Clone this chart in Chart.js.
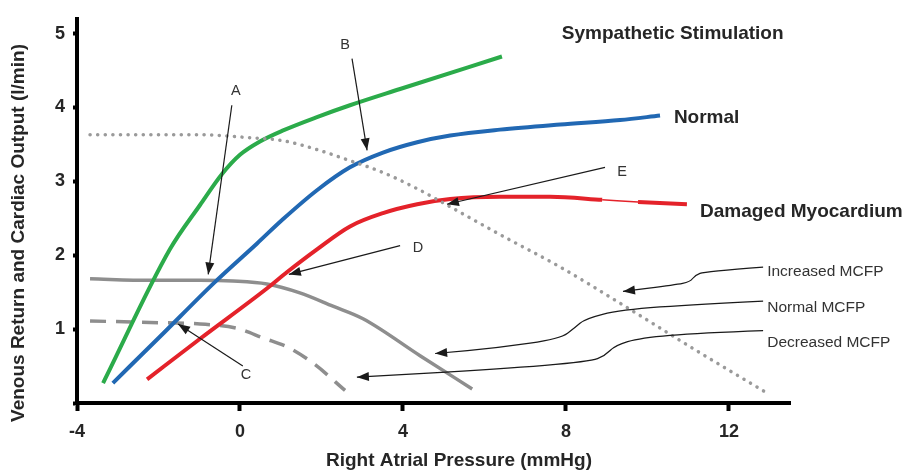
<!DOCTYPE html>
<html lang="en">
<head>
    <meta charset="UTF-8">
    <title>Venous Return and Cardiac Output</title>
    <script src="https://cdn.jsdelivr.net/npm/chart.js"></script>
    <style>
        body {
            margin: 0;
            background-color: #fff;
        }
        canvas {
            display: block;
        }
    </style>
</head>
<body>
    <canvas id="guytonChart" width="908" height="474"></canvas>

    <script>
        // axis ticks
        const xTicks = [-4, 0, 4, 8, 12];
        const yTicks = [0, 1, 2, 3, 4, 5];

        // cardiac output curves (right atrial pressure, l/min)
        const sympatheticX = [-3.36, -1.72, -0.98, -0.44, 0.00, 0.49, 1.06, 1.89, 2.70, 3.93, 6.43];
        const sympatheticY = [0.27, 2.08, 2.68, 3.10, 3.36, 3.54, 3.69, 3.87, 4.03, 4.25, 4.69];

        const normalX = [-3.12, -1.96, -0.61, 0.42, 1.06, 1.89, 2.70, 3.51, 4.35, 5.16, 6.38, 7.86, 9.33, 10.31];
        const normalY = [0.27, 0.90, 1.64, 2.16, 2.49, 2.88, 3.19, 3.39, 3.53, 3.62, 3.70, 3.77, 3.83, 3.89];

        const damagedX = [-2.28, -0.98, 0.66, 1.15, 1.89, 2.70, 3.51, 4.35, 5.16, 6.38, 7.61, 8.89, 9.77, 10.97];
        const damagedY = [0.32, 0.87, 1.55, 1.77, 2.08, 2.39, 2.57, 2.69, 2.76, 2.79, 2.79, 2.75, 2.72, 2.69];

        // venous return curves
        const increasedX = [-3.68, -0.98, 0.25, 1.06, 1.89, 2.70, 3.51, 4.35, 5.08, 6.38, 7.86, 9.33, 11.29, 12.89];
        const increasedY = [3.63, 3.63, 3.59, 3.55, 3.43, 3.28, 3.12, 2.90, 2.68, 2.28, 1.84, 1.35, 0.68, 0.15];

        const normalVrX = [-3.68, -2.21, -0.98, -0.17, 0.66, 1.47, 2.28, 3.02, 4.42, 5.70];
        const normalVrY = [1.68, 1.66, 1.66, 1.65, 1.61, 1.49, 1.31, 1.14, 0.64, 0.19];

        const decreasedX = [-3.68, -2.21, -0.98, -0.07, 0.57, 1.23, 1.84, 2.58];
        const decreasedY = [1.11, 1.09, 1.07, 1.01, 0.88, 0.74, 0.52, 0.17];

        // annotations
        const curveLabels = ['Sympathetic Stimulation', 'Normal', 'Damaged Myocardium'];
        const curveLabelAt = [[7.90, 5.00], [10.65, 3.86], [11.29, 2.59]];

        const mcfpLabels = ['Increased MCFP', 'Normal MCFP', 'Decreased MCFP'];
        const mcfpLabelAt = [[12.94, 1.78], [12.94, 1.29], [12.94, 0.82]];

        const letters = ['A', 'B', 'C', 'D', 'E'];
        const letterAt = [[-0.10, 4.22], [2.58, 4.84], [0.15, 0.38], [4.37, 2.10], [9.38, 3.12]];

        const arrows = [
            [[-0.20, 4.03], [-0.78, 1.74]],
            [[2.75, 4.66], [3.12, 3.42]],
            [[0.07, 0.50], [-1.52, 1.07]],
            [[3.93, 2.13], [1.20, 1.74]],
            [[8.96, 3.19], [5.08, 2.69]],
            [[12.84, 1.84], [11.41, 1.78], [11.17, 1.73], [11.05, 1.64], [10.68, 1.60], [9.40, 1.51]],
            [[12.84, 1.38], [11.29, 1.34], [9.33, 1.26], [8.47, 1.14], [8.22, 1.02], [7.86, 0.87], [6.38, 0.75], [4.79, 0.67]],
            [[12.84, 0.98], [11.29, 0.95], [9.82, 0.88], [9.21, 0.78], [8.96, 0.64], [8.59, 0.56], [6.38, 0.46], [2.87, 0.35]]
        ];

        const pairs = (xs, ys) => xs.map((x, i) => ({x: x, y: ys[i]}));
        const FONT = '"Liberation Sans", Arial, sans-serif';
        const TEXT = '#262626';

        const annotations = {
            id: 'annotations',
            afterDatasetsDraw(chart) {
                const {ctx, scales: {x, y}} = chart;
                const px = p => [x.getPixelForValue(p[0]), y.getPixelForValue(p[1])];
                ctx.save();

                // arrows
                ctx.strokeStyle = '#1a1a1a';
                ctx.fillStyle = '#1a1a1a';
                ctx.lineWidth = 1.2;
                arrows.forEach(path => {
                    const pts = path.map(px);
                    const n = pts.length;
                    ctx.beginPath();
                    ctx.moveTo(pts[0][0], pts[0][1]);
                    for (let i = 1; i < n - 1; i++) {
                        const mx = (pts[i][0] + pts[i + 1][0]) / 2;
                        const my = (pts[i][1] + pts[i + 1][1]) / 2;
                        ctx.quadraticCurveTo(pts[i][0], pts[i][1], mx, my);
                    }
                    ctx.lineTo(pts[n - 1][0], pts[n - 1][1]);
                    ctx.stroke();
                    const a = pts[n - 2], b = pts[n - 1];
                    const ang = Math.atan2(b[1] - a[1], b[0] - a[0]);
                    ctx.beginPath();
                    ctx.moveTo(b[0], b[1]);
                    ctx.lineTo(b[0] - 12 * Math.cos(ang) + 4.5 * Math.sin(ang), b[1] - 12 * Math.sin(ang) - 4.5 * Math.cos(ang));
                    ctx.lineTo(b[0] - 12 * Math.cos(ang) - 4.5 * Math.sin(ang), b[1] - 12 * Math.sin(ang) + 4.5 * Math.cos(ang));
                    ctx.closePath();
                    ctx.fill();
                });

                ctx.textBaseline = 'middle';
                ctx.fillStyle = TEXT;

                ctx.font = 'bold 19px ' + FONT;
                ctx.textAlign = 'left';
                curveLabels.forEach((t, i) => {
                    const p = px(curveLabelAt[i]);
                    ctx.fillText(t, p[0], p[1]);
                });

                ctx.font = '15.5px ' + FONT;
                ctx.fillStyle = '#333';
                mcfpLabels.forEach((t, i) => {
                    const p = px(mcfpLabelAt[i]);
                    ctx.fillText(t, p[0], p[1]);
                });

                ctx.font = '14.5px ' + FONT;
                ctx.textAlign = 'center';
                letters.forEach((t, i) => {
                    const p = px(letterAt[i]);
                    ctx.fillText(t, p[0], p[1]);
                });

                // axis titles
                ctx.fillStyle = TEXT;
                ctx.font = 'bold 19px ' + FONT;
                ctx.fillText('Right Atrial Pressure (mmHg)', 459, 461);
                ctx.translate(19, 233);
                ctx.rotate(-Math.PI / 2);
                ctx.fillText('Venous Return and Cardiac Output (l/min)', 0, 0);
                ctx.restore();
            }
        };

        // thin stretch drawn in the damaged myocardium curve
        const thinStretch = ctx => (ctx.p0.parsed.x >= 8.88 && ctx.p1.parsed.x <= 9.78 ? 1.5 : undefined);

        new Chart(document.getElementById('guytonChart').getContext('2d'), {
            type: 'line',
            data: {
                datasets: [{
                    label: 'Increased MCFP',
                    data: pairs(increasedX, increasedY),
                    borderColor: '#9a9a9a',
                    borderWidth: 3.5,
                    borderDash: [0.1, 7.5],
                    borderCapStyle: 'round'
                }, {
                    label: 'Sympathetic Stimulation',
                    data: pairs(sympatheticX, sympatheticY),
                    borderColor: '#2bab4a',
                    borderWidth: 4
                }, {
                    label: 'Normal',
                    data: pairs(normalX, normalY),
                    borderColor: '#2168b3',
                    borderWidth: 4
                }, {
                    label: 'Damaged Myocardium',
                    data: pairs(damagedX, damagedY),
                    borderColor: '#e4222a',
                    borderWidth: 4,
                    segment: {borderWidth: thinStretch}
                }, {
                    label: 'Normal MCFP',
                    data: pairs(normalVrX, normalVrY),
                    borderColor: '#8e8e8e',
                    borderWidth: 3.5
                }, {
                    label: 'Decreased MCFP',
                    data: pairs(decreasedX, decreasedY),
                    borderColor: '#8e8e8e',
                    borderWidth: 3.5,
                    borderDash: [16, 10]
                }]
            },
            options: {
                responsive: false,
                animation: false,
                layout: {padding: {top: 14, right: 118, bottom: 0, left: 0}},
                elements: {
                    point: {radius: 0},
                    line: {cubicInterpolationMode: 'monotone', fill: false}
                },
                plugins: {
                    legend: {display: false},
                    tooltip: {enabled: false}
                },
                scales: {
                    x: {
                        type: 'linear',
                        min: -4,
                        max: 13.5,
                        afterBuildTicks: s => { s.ticks = xTicks.map(v => ({value: v})); },
                        afterFit: s => { s.height = 71; },
                        border: {display: true, color: '#000', width: 4},
                        grid: {drawOnChartArea: false, drawTicks: true, tickLength: 8, tickWidth: 4, color: '#000'},
                        ticks: {color: TEXT, padding: 10, font: {family: FONT, size: 18, weight: 'bold'}}
                    },
                    y: {
                        type: 'linear',
                        min: 0,
                        max: 5.2,
                        afterBuildTicks: s => { s.ticks = yTicks.map(v => ({value: v})); },
                        afterFit: s => { s.width = 77; },
                        border: {display: true, color: '#000', width: 4},
                        grid: {drawOnChartArea: false, drawTicks: true, tickLength: 4, tickWidth: 4, color: '#000'},
                        ticks: {
                            color: TEXT,
                            padding: 8,
                            font: {family: FONT, size: 18, weight: 'bold'},
                            callback: v => (v === 0 ? '' : v)
                        }
                    }
                }
            },
            plugins: [annotations]
        });
    </script>
</body>
</html>
